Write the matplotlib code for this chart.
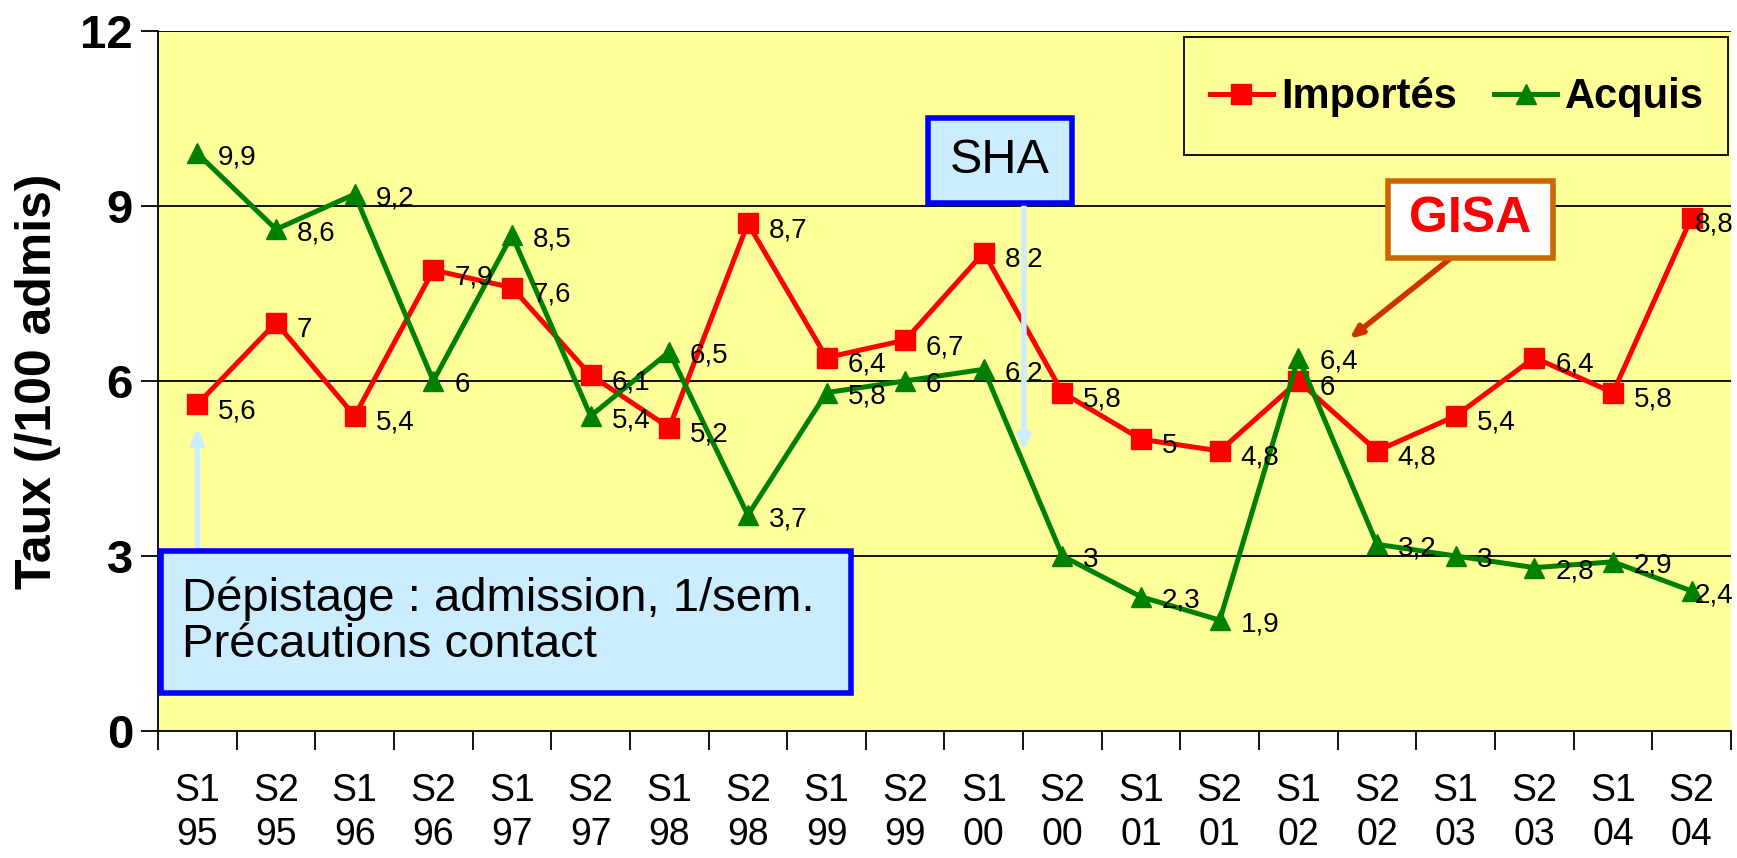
import matplotlib.pyplot as plt
import numpy as np
from matplotlib.patches import Rectangle

plt.rcParams['font.family'] = ['Liberation Sans', 'DejaVu Sans']

# Data
semestres = ['S1', 'S2', 'S1', 'S2', 'S1', 'S2', 'S1', 'S2', 'S1', 'S2',
             'S1', 'S2', 'S1', 'S2', 'S1', 'S2', 'S1', 'S2', 'S1', 'S2']
annees = ['95', '95', '96', '96', '97', '97', '98', '98', '99', '99',
          '00', '00', '01', '01', '02', '02', '03', '03', '04', '04']
importes = [5.6, 7, 5.4, 7.9, 7.6, 6.1, 5.2, 8.7, 6.4, 6.7,
            8.2, 5.8, 5, 4.8, 6, 4.8, 5.4, 6.4, 5.8, 8.8]
acquis = [9.9, 8.6, 9.2, 6, 8.5, 5.4, 6.5, 3.7, 5.8, 6,
          6.2, 3, 2.3, 1.9, 6.4, 3.2, 3, 2.8, 2.9, 2.4]
yticks = [0, 3, 6, 9, 12]

x = np.arange(len(importes))
labels = [f'{s}\n{a}' for s, a in zip(semestres, annees)]

fig = plt.figure(figsize=(17.37, 8.58), dpi=100)
ax = fig.add_axes([0.091, 0.148, 0.9055, 0.816])
ax.set_facecolor('#FFFF99')

ax.set_xlim(-0.5, len(x) - 0.5)
ax.set_ylim(0, 12)

# gridlines
for y in yticks[1:]:
    ax.axhline(y, color='black', lw=1.3, zorder=1)

def fmt(v):
    return (f'{v:g}').replace('.', ',')

ax.plot(x, importes, color='#FF0000', lw=3.6, marker='s', ms=14,
        label='Importés', zorder=4)
ax.plot(x, acquis, color='#008000', lw=3.6, marker='^', ms=15,
        label='Acquis', zorder=5)

last = len(x) - 1
for xi, v in zip(x, importes):
    dx = 2 if xi == last else 15
    ax.annotate(fmt(v), (xi, v), xytext=(dx, -5), textcoords='offset points',
                ha='left', va='center', fontsize=20, zorder=6)
for xi, v in zip(x, acquis):
    dx = 2 if xi == last else 15
    ax.annotate(fmt(v), (xi, v), xytext=(dx, -3), textcoords='offset points',
                ha='left', va='center', fontsize=20, zorder=6)

# axes styling
ax.spines['top'].set_visible(False)
ax.spines['right'].set_visible(False)
ax.spines['left'].set_linewidth(1.3)
ax.spines['bottom'].set_linewidth(1.3)
ax.set_yticks(yticks)
ax.tick_params(axis='y', length=12, width=1.3, pad=6, labelsize=34)
for t in ax.get_yticklabels():
    t.set_fontweight('bold')
ax.set_xticks(x)
ax.set_xticklabels(labels, linespacing=1.3)
ax.set_xticks(np.arange(-0.5, len(x)), minor=True)
ax.tick_params(axis='x', which='major', length=0, pad=30, labelsize=27)
ax.tick_params(axis='x', which='minor', length=14, width=1.3)

ax.set_ylabel('Taux (/100 admis)', fontsize=36, fontweight='bold', labelpad=14)

# legend: frame drawn as a rectangle, entries centred in it
ax.add_patch(Rectangle((0.652, 0.823), 0.346, 0.168, transform=ax.transAxes,
                       facecolor='#FFFF99', edgecolor='black', linewidth=1.3,
                       zorder=9))
leg = ax.legend(loc='center', bbox_to_anchor=(0.826, 0.905), ncol=2,
                frameon=False, handlelength=1.5, handletextpad=0.2,
                columnspacing=0.9, prop={'weight': 'bold', 'size': 30})
leg.set_zorder(10)

light_blue = '#CCECFF'

# Dépistage box + arrow
ax.annotate('', xy=(0, 5.25), xytext=(0, 3.05),
            arrowprops=dict(arrowstyle='-|>,head_length=0.8,head_width=0.35',
                            color=light_blue, lw=4), zorder=7)
ax.add_patch(Rectangle((-0.46, 0.65), 8.77, 2.44, facecolor=light_blue,
                       edgecolor='#0000FF', linewidth=4, zorder=8))
ax.text(-0.2, 1.87, 'Dépistage : admission, 1/sem.\nPrécautions contact',
        fontsize=34, ha='left', va='center', linespacing=1.05, zorder=9)

# SHA box + arrow
ax.annotate('', xy=(10.51, 4.75), xytext=(10.51, 9.1),
            arrowprops=dict(arrowstyle='-|>,head_length=0.8,head_width=0.35',
                            color=light_blue, lw=4), zorder=7)
ax.add_patch(Rectangle((9.29, 9.05), 1.83, 1.46, facecolor=light_blue,
                       edgecolor='#0000FF', linewidth=4, zorder=8))
ax.text(10.2, 9.78, 'SHA', fontsize=35, ha='center', va='center', zorder=9)

# GISA box + arrow
ax.annotate('', xy=(14.62, 6.69), xytext=(15.98, 8.15),
            arrowprops=dict(arrowstyle='-|>,head_length=0.7,head_width=0.3',
                            color='#CC3300', lw=4), zorder=7)
ax.add_patch(Rectangle((15.14, 8.11), 2.1, 1.32, facecolor='white',
                       edgecolor='#CC6600', linewidth=4, zorder=8))
ax.text(16.19, 8.77, 'GISA', fontsize=36, fontweight='bold', color='#FF0000',
        ha='center', va='center', zorder=9)

plt.savefig('out.png', dpi=100, facecolor='white')
